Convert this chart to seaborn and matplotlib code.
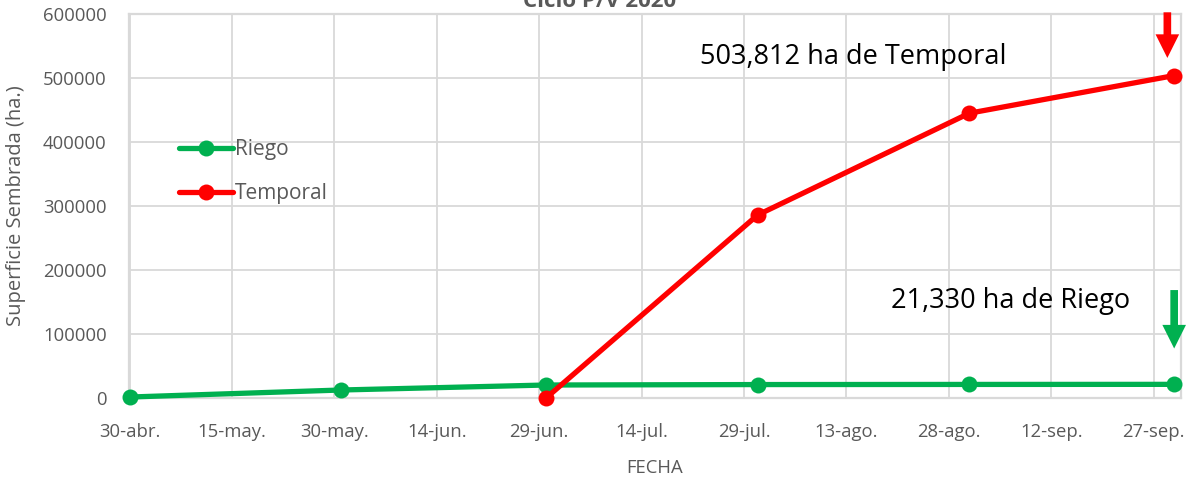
import matplotlib
matplotlib.use("Agg")
import matplotlib.pyplot as plt
import seaborn as sns
import pandas as pd
from matplotlib.lines import Line2D

# ---- data ----
riego_fechas = ["2020-04-30", "2020-05-31", "2020-06-30", "2020-07-31", "2020-08-31", "2020-09-30"]
riego_valores = [1500, 12500, 20300, 21000, 21200, 21330]
temporal_fechas = ["2020-06-30", "2020-07-31", "2020-08-31", "2020-09-30"]
temporal_valores = [0, 286000, 445000, 503812]
tick_fechas = pd.date_range("2020-04-30", periods=11, freq="15D")
tick_labels = ["30-abr.", "15-may.", "30-may.", "14-jun.", "29-jun.", "14-jul.",
               "29-jul.", "13-ago.", "28-ago.", "12-sep.", "27-sep."]
y_ticks = [0, 100000, 200000, 300000, 400000, 500000, 600000]

df = pd.concat([
    pd.DataFrame({"fecha": pd.to_datetime(riego_fechas), "sup": riego_valores, "tipo": "Riego"}),
    pd.DataFrame({"fecha": pd.to_datetime(temporal_fechas), "sup": temporal_valores, "tipo": "Temporal"}),
])

GREEN = "#00B050"
RED = "#FF0000"
GRAY = "#595959"
GRID = "#D9D9D9"

sns.set_style("white")
plt.rcParams["font.family"] = ["Open Sans", "DejaVu Sans"]

fig = plt.figure(figsize=(11.99, 4.79), dpi=100)
ax = fig.add_axes([129/1199, 1-398/479, (1181-129)/1199, (398-14)/479])

sns.lineplot(data=df, x="fecha", y="sup", hue="tipo", palette={"Riego": GREEN, "Temporal": RED},
             marker="o", markersize=11.5, markeredgewidth=0, linewidth=3.8, ax=ax, legend=False)
for ln in ax.get_lines():
    ln.set_clip_on(False)
    ln.set_zorder(3)

ax.set_xlim(pd.Timestamp("2020-04-30") - pd.Timedelta(hours=2), pd.Timestamp("2020-10-01"))
ax.set_ylim(0, 600000)
ax.set_xticks(tick_fechas)
ax.set_xticklabels(tick_labels)
ax.set_yticks(y_ticks)
ax.set_yticklabels([str(v) for v in y_ticks])
ax.tick_params(axis="both", colors=GRAY, labelsize=13.3, length=0)
ax.tick_params(axis="y", pad=16)
ax.tick_params(axis="x", pad=18)
ax.grid(True, color=GRID, linewidth=1.3)
ax.set_axisbelow(True)
for s in ax.spines.values():
    s.set_color(GRID)
    s.set_linewidth(1.6)

ax.set_xlabel("FECHA", color=GRAY, fontsize=13.3, labelpad=13)
ax.set_ylabel("Superficie Sembrada (ha.)", color=GRAY, fontsize=14.5, labelpad=12)

handles = [Line2D([], [], color=GREEN, lw=3.8, marker="o", markersize=11.5, markeredgewidth=0),
           Line2D([], [], color=RED, lw=3.8, marker="o", markersize=11.5, markeredgewidth=0)]
leg = ax.legend(handles, ["Riego", "Temporal"], loc="upper left", bbox_to_anchor=(0.04, 0.695),
                frameon=False, fontsize=15, handlelength=2.55, handletextpad=0.1, labelspacing=1.1,
                borderaxespad=0)
for t in leg.get_texts():
    t.set_color(GRAY)

fig.text(0.5, 1-7/479, "Ciclo P/V 2020", ha="center", va="baseline", fontsize=16,
         fontweight="bold", color=GRAY)

ax.text(pd.Timestamp("2020-08-14"), 533000, "503,812 ha de Temporal", fontsize=19.5, color="black",
        ha="center", va="center")
ax.text(pd.Timestamp("2020-09-06"), 151000, "21,330 ha de Riego", fontsize=19.5, color="black",
        ha="center", va="center")

ax.annotate("", xy=(pd.Timestamp("2020-09-29"), 527000), xytext=(pd.Timestamp("2020-09-29"), 607000),
            arrowprops=dict(arrowstyle="simple,head_length=1.7,head_width=1.7,tail_width=0.55",
                            color=RED, lw=0), annotation_clip=False)
ax.annotate("", xy=(pd.Timestamp("2020-09-30"), 73000), xytext=(pd.Timestamp("2020-09-30"), 173000),
            arrowprops=dict(arrowstyle="simple,head_length=1.7,head_width=1.7,tail_width=0.55",
                            color=GREEN, lw=0))

fig.savefig("out.png", dpi=100)
